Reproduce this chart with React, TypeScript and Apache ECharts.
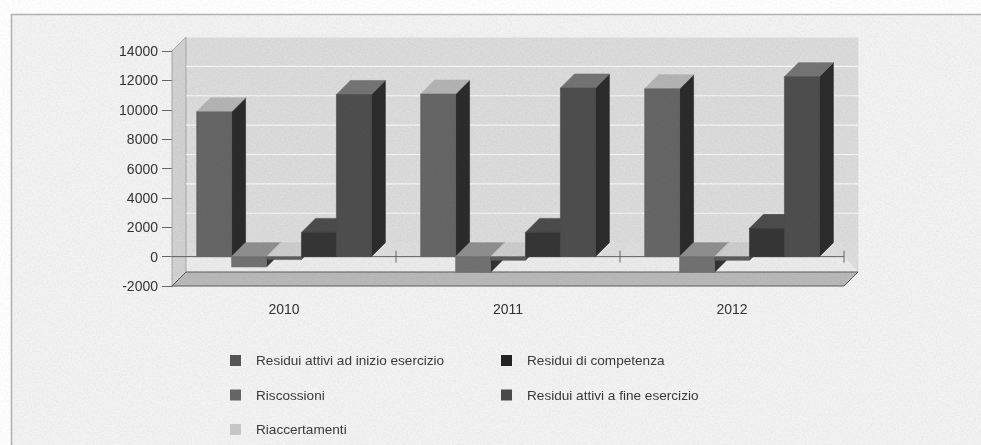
import React, { useEffect, useRef } from "react";
import * as echarts from "echarts";

const categories = ["2010", "2011", "2012"];
const seriesNames = [
  "Residui attivi ad inizio esercizio",
  "Riscossioni",
  "Riaccertamenti",
  "Residui di competenza",
  "Residui attivi a fine esercizio",
];
const residuiInizio = [9860, 11070, 11430];
const riscossioni = [-700, -1070, -1070];
const riaccertamenti = [-200, -250, -250];
const residuiCompetenza = [1650, 1650, 1925];
const residuiFine = [11040, 11480, 12250];
const allValues = [residuiInizio, riscossioni, riaccertamenti, residuiCompetenza, residuiFine];

// front, top, side shade of each prism
const shades = [
  ["#666666", "#b4b4b4", "#2b2b2b"],
  ["#727272", "#8f8f8f", "#333333"],
  ["#5c5c5c", "#cdcdcd", "#444444"],
  ["#353535", "#4c4c4c", "#252525"],
  ["#4e4e4e", "#747474", "#2c2c2c"],
];
const legendColors = ["#555555", "#666666", "#c9c9c9", "#222222", "#4a4a4a"];
const yTicks = [-2000, 0, 2000, 4000, 6000, 8000, 10000, 12000, 14000];
const DEPTH = 14;
const FONT = "'Liberation Sans', Arial, sans-serif";

const grain =
  "url(\"data:image/svg+xml;utf8," +
  encodeURIComponent(
    "<svg xmlns='http://www.w3.org/2000/svg' width='981' height='445'><filter id='n'><feTurbulence type='fractalNoise' baseFrequency='0.55' numOctaves='2' seed='7'/><feColorMatrix values='0 0 0 0 0.5 0 0 0 0 0.5 0 0 0 0 0.5 0.9 0 0 0 -0.28'/></filter><rect width='981' height='445' filter='url(#n)'/></svg>"
  ) +
  "\")";

const poly = (points: number[][], fill: string, stroke = fill, lineWidth = 0.6) => ({
  type: "polygon",
  shape: { points },
  style: { fill, stroke, lineWidth },
});
const seg = (x1: number, y1: number, x2: number, y2: number, stroke: string, lineWidth = 1) => ({
  type: "line",
  shape: { x1, y1, x2, y2 },
  style: { stroke, lineWidth },
});

const renderWalls = (params: any, api: any) => {
  const { x, y, width, height } = params.coordSys;
  const right = x + width;
  const bottom = y + height;
  const zeroY = api.coord([0, 0])[1];
  const d = DEPTH;
  const children: any[] = [
    poly([[x + d, y - d], [right + d, y - d], [right + d, zeroY - d], [x + d, zeroY - d]], "#dcdcdc"),
    poly([[x + d, zeroY - d], [right + d, zeroY - d], [right + d, bottom - d], [x + d, bottom - d]], "#dedede"),
    poly([[x, zeroY], [right, zeroY], [right + d, bottom - d], [x + d, bottom - d]], "#ececec"),
    poly([[x, y], [x + d, y - d], [x + d, bottom - d], [x, bottom]], "#d2d2d2", "#9a9a9a", 0.8),
    poly([[x, bottom], [x + d, bottom - d], [right + d, bottom - d], [right, bottom]], "#b9b9b9", "#5a5a5a", 1),
  ];
  yTicks.slice(2).forEach((v) => {
    const py = api.coord([0, v])[1] - d;
    children.push(seg(x + d, py, right + d, py, "#f7f7f7", 1.2));
  });
  children.push(seg(x, zeroY, right, zeroY, "#5f5f5f", 1));
  categories.forEach((_, i) => {
    const band = api.size([1, 0])[0];
    const tx = api.coord([i, 0])[0] + band / 2;
    children.push(seg(tx, zeroY - 6, tx, zeroY + 6, "#666666", 1));
  });
  return { type: "group", children };
};

const makePrism = (idx: number) => (_params: any, api: any) => {
  const cat = api.value(0);
  const val = api.value(1);
  const band = api.size([1, 0])[0];
  const w = band * 0.156;
  const center = api.coord([cat, 0])[0];
  const x0 = center + (idx - 2.5) * w;
  const x1 = x0 + w;
  const yZero = api.coord([cat, 0])[1];
  const yVal = api.coord([cat, val])[1];
  const yTop = Math.min(yZero, yVal);
  const yBot = Math.max(yZero, yVal);
  const [front, top, side] = shades[idx];
  const d = DEPTH;
  return {
    type: "group",
    children: [
      poly([[x1, yTop], [x1 + d, yTop - d], [x1 + d, yBot - d], [x1, yBot]], side),
      poly([[x0, yTop], [x0 + d, yTop - d], [x1 + d, yTop - d], [x1, yTop]], top),
      poly([[x0, yTop], [x1, yTop], [x1, yBot], [x0, yBot]], front),
    ],
  };
};

const legendBase = {
  orient: "vertical" as const,
  top: 353.5,
  padding: 0,
  itemWidth: 11,
  itemHeight: 11,
  itemGap: 20.5,
  icon: "rect",
  selectedMode: false,
  textStyle: { fontFamily: FONT, fontSize: 13.6, color: "#3a3a3a", padding: [0, 0, 0, 10] },
};

export default function App() {
  const ref = useRef<HTMLDivElement>(null);
  useEffect(() => {
    document.body.style.margin = "0";
    document.body.style.background = "#ffffff";
    const chart = echarts.init(ref.current!, null, { renderer: "svg" });
    chart.setOption({
      animation: false,
      backgroundColor: "#ffffff",
      graphic: [
        {
          type: "rect",
          z: -10,
          shape: { x: 11.5, y: 14.5, width: 980, height: 440 },
          style: { fill: "#f3f3f3", stroke: "#b4b4b4", lineWidth: 1.5 },
        },
      ],
      grid: { left: 172, top: 51, width: 672, height: 235, containLabel: false },
      xAxis: {
        type: "category",
        data: categories,
        position: "bottom",
        axisLine: { show: false, onZero: false },
        axisTick: { show: false },
        splitLine: { show: false },
        axisLabel: { margin: 16, fontFamily: FONT, fontSize: 14, color: "#333333" },
      },
      yAxis: {
        type: "value",
        min: -2000,
        max: 14000,
        interval: 2000,
        axisLine: { show: true, lineStyle: { color: "#808080" } },
        axisTick: { show: true, length: 10, lineStyle: { color: "#666666" } },
        splitLine: { show: false },
        axisLabel: {
          margin: 14,
          fontFamily: FONT,
          fontSize: 14,
          color: "#333333",
          formatter: (v: number) => String(v),
        },
      },
      legend: [
        { ...legendBase, left: 230, data: [seriesNames[0], seriesNames[1], seriesNames[2]] },
        { ...legendBase, left: 501, data: [seriesNames[3], seriesNames[4]] },
      ],
      series: [
        {
          type: "custom",
          name: "Pareti",
          renderItem: renderWalls,
          data: [[0, 0]],
          encode: { x: 0, y: 1 },
          clip: false,
          silent: true,
          z: 1,
        },
        ...seriesNames.map((name, i) => ({
          type: "custom",
          name,
          renderItem: makePrism(i),
          data: categories.map((_, c) => [c, allValues[i][c]]),
          encode: { x: 0, y: 1 },
          itemStyle: { color: legendColors[i] },
          clip: false,
          z: 2 + i,
        })),
      ],
    });
    return () => chart.dispose();
  }, []);
  return (
    <div style={{ position: "relative", width: 981, height: 445, overflow: "hidden" }}>
      <div ref={ref} style={{ width: 981, height: 445 }} />
      <div
        style={{
          position: "absolute",
          inset: 0,
          pointerEvents: "none",
          backgroundImage: grain,
          mixBlendMode: "multiply",
          opacity: 0.3,
        }}
      />
    </div>
  );
}
